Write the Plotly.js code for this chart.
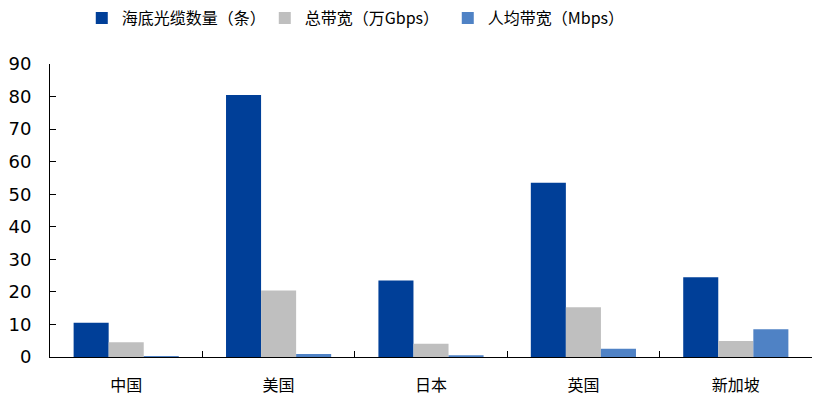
<!DOCTYPE html>
<html>
<head>
<meta charset="utf-8">
<script src="https://cdn.plot.ly/plotly-3.0.1.min.js"></script>
<style>html,body{margin:0;padding:0;background:#fff}</style>
</head>
<body>
<div id="chart" style="width:826px;height:401px"></div>
<script>
// countries and the three series
const countries = ['中国', '美国', '日本', '英国', '新加坡'];
const cables = [10.5, 80.5, 23.5, 53.5, 24.5];      // 海底光缆数量（条）
const totalBw = [4.5, 20.4, 4.1, 15.3, 4.9];        // 总带宽（万Gbps）
const perCapita = [0.3, 0.9, 0.5, 2.5, 8.5];        // 人均带宽（Mbps）
const names = ['海底光缆数量（条）', '总带宽（万Gbps）', '人均带宽（Mbps）'];

const colors = ['#003f98', '#bfbfbf', '#4f82c5'];
const series = [cables, totalBw, perCapita];

const data = series.map((vals, i) => ({
  x: countries,
  y: vals,
  name: names[i],
  type: 'bar',
  marker: {color: colors[i]}
}));

const layout = {
  width: 826,
  height: 401,
  margin: {l: 50, r: 14, t: 64, b: 44},
  paper_bgcolor: '#fff',
  plot_bgcolor: '#fff',
  font: {family: '"Noto Sans CJK SC", "DejaVu Sans", sans-serif', color: '#000'},
  barmode: 'group',
  bargap: 0.31,
  bargroupgap: 0,
  showlegend: true,
  legend: {
    orientation: 'h',
    xref: 'container', yref: 'container',
    x: 0.099, y: 1 - 18 / 401,
    xanchor: 'left', yanchor: 'middle',
    font: {size: 16},
    entrywidth: 138,
    itemwidth: 30
  },
  xaxis: {
    showline: true,
    linecolor: '#000',
    linewidth: 1,
    ticks: 'inside',
    tickson: 'boundaries',
    ticklen: 6,
    tickcolor: '#000',
    ticklabelstandoff: 14,
    tickfont: {size: 16, family: '"Noto Sans CJK SC", sans-serif'},
    showgrid: false
  },
  yaxis: {
    range: [0, 90],
    dtick: 10,
    showline: true,
    linecolor: '#000',
    linewidth: 1,
    ticks: 'inside',
    ticklen: 6,
    tickcolor: '#000',
    ticklabelstandoff: 14,
    tickfont: {size: 18, family: '"DejaVu Sans", sans-serif'},
    showgrid: false,
    zeroline: false
  }
};

Plotly.newPlot('chart', data, layout, {displayModeBar: false, staticPlot: true});
</script>
</body>
</html>
